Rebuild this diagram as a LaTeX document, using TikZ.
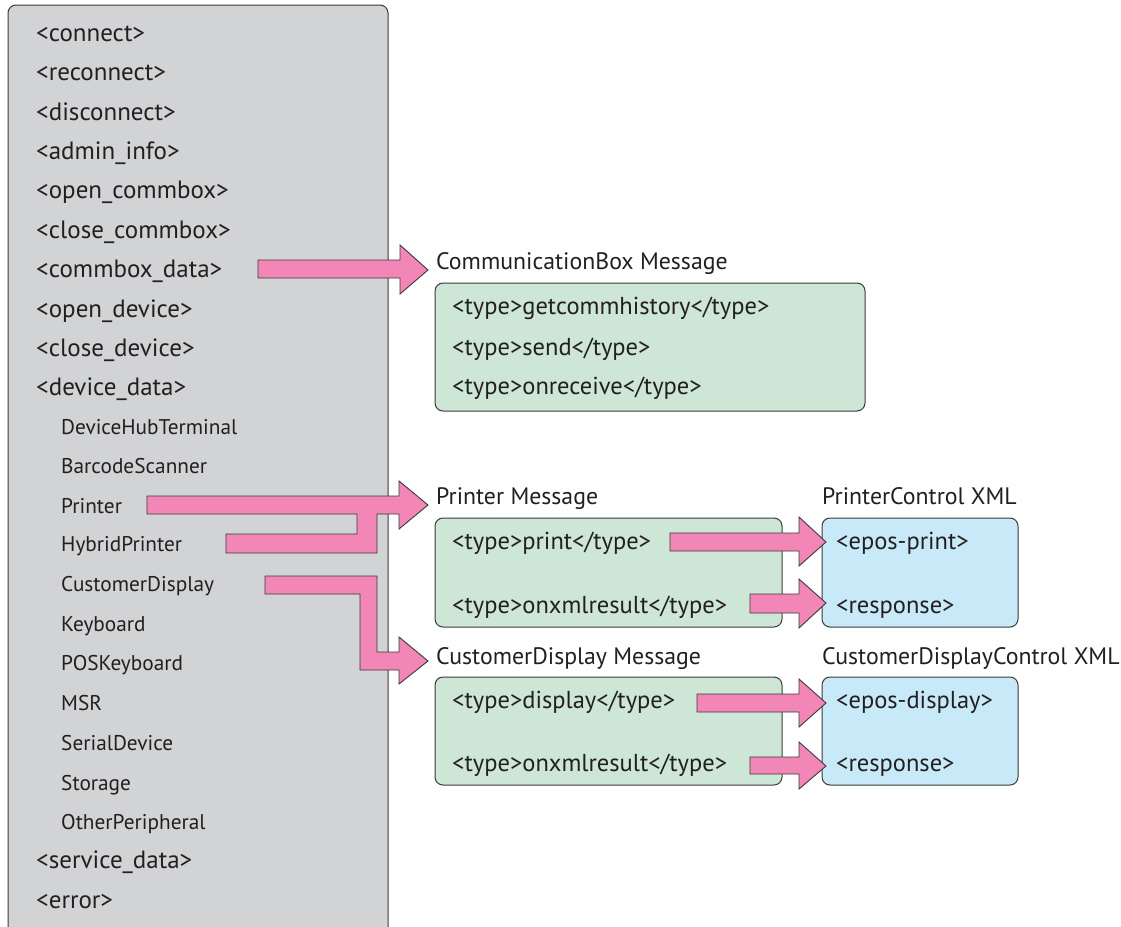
\documentclass[tikz,border=0pt]{standalone}
\usepackage{fontspec}
\setmainfont{PT Sans}
\definecolor{txt}{HTML}{231F20}
\definecolor{graybox}{HTML}{D1D3D4}
\definecolor{greenbox}{HTML}{CDE6D6}
\definecolor{bluebox}{HTML}{C7E9F8}
\definecolor{pinkarrow}{HTML}{F287B7}
\definecolor{edge}{HTML}{3A3A3A}
\tikzset{
  mainitem/.style={anchor=west,inner sep=0pt,yshift=-4.5pt,text height=0.75em,text depth=0.25em,font=\fontsize{25}{27}\selectfont,text=txt},
  subitem/.style={anchor=west,inner sep=0pt,yshift=-4pt,text height=0.75em,text depth=0.25em,font=\fontsize{21.3}{23}\selectfont,text=txt},
  boxitem/.style={anchor=west,inner sep=0pt,yshift=-4.5pt,text height=0.75em,text depth=0.25em,font=\fontsize{24.5}{26}\selectfont,text=txt},
  boxtitle/.style={anchor=west,inner sep=0pt,yshift=-4.5pt,text height=0.75em,text depth=0.25em,font=\fontsize{23.8}{26}\selectfont,text=txt},
  panel/.style={draw=edge,line width=1pt,rounded corners=8pt},
  blockarrow/.style={fill=pinkarrow,draw=edge,line width=0.9pt,line join=miter},
}
\begin{document}
\begin{tikzpicture}[x=1pt,y=-1pt]
\useasboundingbox (0,0) rectangle (1121,926);
% gray panel
\draw[panel,fill=graybox] (8,940) -- (8,5) -- (388,5) -- (388,940);
% left items
\node[mainitem] (connect) at (36,34) {<connect>};
\node[mainitem] (reconnect) at (36,73) {<reconnect>};
\node[mainitem] (disconnect) at (36,113) {<disconnect>};
\node[mainitem] (admin) at (36,152) {<admin\_info>};
\node[mainitem] (opencb) at (36,191) {<open\_commbox>};
\node[mainitem] (closecb) at (36,231) {<close\_commbox>};
\node[mainitem] (cbdata) at (36,270) {<commbox\_data>};
\node[mainitem] (opendev) at (36,310) {<open\_device>};
\node[mainitem] (closedev) at (36,349) {<close\_device>};
\node[mainitem] (devdata) at (36,388) {<device\_data>};
\node[subitem] (dht) at (61,428) {DeviceHubTerminal};
\node[subitem] (bcs) at (61,467) {BarcodeScanner};
\node[subitem] (prn) at (61,507) {Printer};
\node[subitem] (hprn) at (61,545) {HybridPrinter};
\node[subitem] (cdisp) at (61,585) {CustomerDisplay};
\node[subitem] (kbd) at (61,625) {Keyboard};
\node[subitem] (poskbd) at (61,664) {POSKeyboard};
\node[subitem] (msr) at (61,704) {MSR};
\node[subitem] (serial) at (61,744) {SerialDevice};
\node[subitem] (storage) at (61,784) {Storage};
\node[subitem] (other) at (61,823) {OtherPeripheral};
\node[mainitem] (svc) at (36,861) {<service\_data>};
\node[mainitem] (err) at (36,901) {<error>};
% CommunicationBox
\node[boxtitle] (cbtitle) at (436,262) {CommunicationBox Message};
\draw[panel,fill=greenbox] (435,283) rectangle (865,411);
\node[boxitem] (cb1) at (452,307) {<type>getcommhistory</type>};
\node[boxitem] (cb2) at (452,348) {<type>send</type>};
\node[boxitem] (cb3) at (452,387) {<type>onreceive</type>};
% Printer
\node[boxtitle] (ptitle) at (436,497) {Printer Message};
\draw[panel,fill=greenbox] (435,518) rectangle (782,627);
\node[boxitem] (p1) at (452,542) {<type>print</type>};
\node[boxitem] (p2) at (452,606) {<type>onxmlresult</type>};
\node[boxtitle] (pctitle) at (822,497) {PrinterControl XML};
\draw[panel,fill=bluebox] (822,518) rectangle (1018,627);
\node[boxitem] (pc1) at (836,542) {<epos-print>};
\node[boxitem] (pc2) at (836,606) {<response>};
% Customer display
\node[boxtitle] (ctitle) at (436,657) {CustomerDisplay Message};
\draw[panel,fill=greenbox] (435,677) rectangle (782,785);
\node[boxitem] (c1) at (452,701) {<type>display</type>};
\node[boxitem] (c2) at (452,764) {<type>onxmlresult</type>};
\node[boxtitle] (cctitle) at (822,657) {CustomerDisplayControl XML};
\draw[panel,fill=bluebox] (822,677) rectangle (1018,785);
\node[boxitem] (cc1) at (836,701) {<epos-display>};
\node[boxitem] (cc2) at (836,764) {<response>};
% block arrows
\draw[blockarrow] (258,260) -- (400,260) -- (400,245) -- (428,270) -- (400,294) -- (400,278) -- (258,278) -- cycle;
\draw[blockarrow] (147,496) -- (399,496) -- (399,481) -- (428,505) -- (399,529) -- (399,514) -- (377,514) -- (377,553) -- (226,553) -- (226,534) -- (357,534) -- (357,514) -- (147,514) -- cycle;
\draw[blockarrow] (265,576) -- (377,576) -- (377,652) -- (399,652) -- (399,637) -- (428,661) -- (399,684) -- (399,670) -- (360,670) -- (360,594) -- (265,594) -- cycle;
\draw[blockarrow] (670,533) -- (799,533) -- (799,517) -- (826,542) -- (799,566) -- (799,551) -- (670,551) -- cycle;
\draw[blockarrow] (750,594) -- (799,594) -- (799,579) -- (826,603) -- (799,628) -- (799,613) -- (750,613) -- cycle;
\draw[blockarrow] (697,694) -- (799,694) -- (799,679) -- (826,703) -- (799,727) -- (799,712) -- (697,712) -- cycle;
\draw[blockarrow] (750,757) -- (799,757) -- (799,742) -- (826,766) -- (799,789) -- (799,774) -- (750,774) -- cycle;
\end{tikzpicture}
\end{document}
